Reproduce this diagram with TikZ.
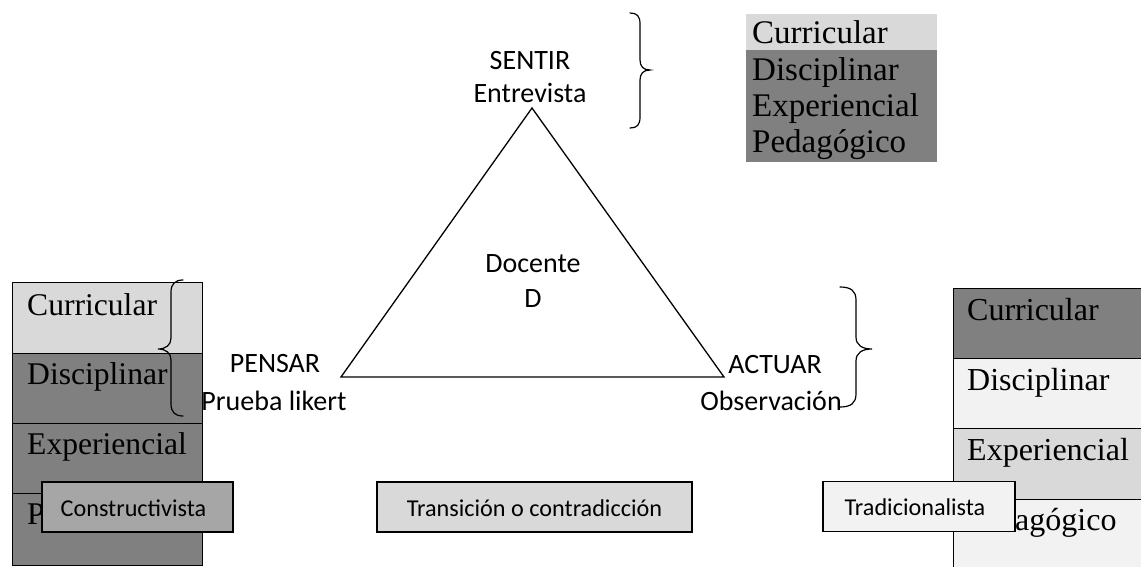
\documentclass[tikz,border=0pt]{standalone}
\usepackage{fontspec}
\setmainfont{Liberation Serif}
\newfontfamily\labelfont{Carlito}
\definecolor{dk}{gray}{0.5}
\definecolor{lt}{gray}{0.851}
\definecolor{vlt}{gray}{0.949}
\definecolor{md}{gray}{0.651}
\begin{document}
\begin{tikzpicture}[x=1pt,y=-1pt,
  rowcell/.style={draw=black,line width=0.9pt},
  stacktext/.style={font=\fontsize{31.6}{38}\selectfont,anchor=base west,inner sep=0pt},
  toptext/.style={font=\fontsize{33}{40}\selectfont,anchor=base west,inner sep=0pt},
  vertexlabel/.style={font=\labelfont\fontsize{28}{34}\selectfont,anchor=base,inner sep=0pt},
  tagbox/.style={draw=black,line width=1.3pt,inner sep=0pt,minimum height=50pt},
  tagtext/.style={font=\labelfont\fontsize{24.2}{29}\selectfont,anchor=base,inner sep=0pt},
  bracestroke/.style={line width=1.2pt,line cap=round}]
\useasboundingbox (0,0) rectangle (1141,567);
\clip (0,0) rectangle (1141,567);
% left stack
\filldraw[rowcell,fill=lt] (12,282) rectangle (202,353);
\filldraw[rowcell,fill=dk] (12,353) rectangle (202,423);
\filldraw[rowcell,fill=dk] (12,423) rectangle (202,493);
\filldraw[rowcell,fill=dk] (12,493) rectangle (202,565);
\node[stacktext] (lcur) at (27,315) {Curricular};
\node[stacktext] (ldis) at (27,384) {Disciplinar};
\node[stacktext] (lexp) at (27,454) {Experiencial};
\node[stacktext] (lped) at (27,524) {Pedagógico};
% right stack
\filldraw[rowcell,fill=dk] (953,288) rectangle (1160,358);
\filldraw[rowcell,fill=vlt] (953,358) rectangle (1160,428);
\filldraw[rowcell,fill=lt] (953,428) rectangle (1160,499);
\filldraw[rowcell,fill=vlt] (953,499) rectangle (1160,600);
\node[stacktext,font=\fontsize{32}{38}\selectfont] (rcur) at (967,320) {Curricular};
\node[stacktext,font=\fontsize{32}{38}\selectfont] (rdis) at (967,390) {Disciplinar};
\node[stacktext,font=\fontsize{32}{38}\selectfont] (rexp) at (967,460) {Experiencial};
\node[stacktext,font=\fontsize{32}{38}\selectfont] (rped) at (967,530) {Pedagógico};
% top right block
\fill[lt] (746,14) rectangle (937,50);
\fill[dk] (746,50) rectangle (937,162);
\node[toptext] (tcur) at (752,44) {Curricular};
\node[toptext] (tdis) at (752,81) {Disciplinar};
\node[toptext] (texp) at (752,117) {Experiencial};
\node[toptext] (tped) at (752,153) {Pedagógico};
% triangle
\coordinate (apex) at (532,108);
\coordinate (bl) at (341,377);
\coordinate (br) at (724,377);
\draw[line width=1.3pt,line join=miter] (apex) -- (bl) -- (br) -- cycle;
\node[vertexlabel] (sentir) at (530,70) {SENTIR};
\node[vertexlabel] (entrev) at (530,103) {Entrevista};
\node[vertexlabel] (docente) at (533,272) {Docente};
\node[vertexlabel] (dd) at (533,307) {D};
\node[vertexlabel] (pensar) at (275,372) {PENSAR};
\node[vertexlabel] (prueba) at (274,410) {Prueba likert};
\node[vertexlabel] (actuar) at (775,373) {ACTUAR};
\node[vertexlabel] (observ) at (771,410) {Observación};
% braces
\draw[bracestroke] (630,13) .. controls (637,13) and (640,16) .. (640,24) -- (640,60)
  .. controls (640,66) and (643,70) .. (650,70) .. controls (643,70) and (640,74) .. (640,80)
  -- (640,117) .. controls (640,125) and (637,128) .. (630,128);
\draw[bracestroke] (840,287) .. controls (851,287) and (856,291) .. (856,300) -- (856,337)
  .. controls (856,345) and (862,349) .. (872,349) .. controls (862,349) and (856,353) .. (856,361)
  -- (856,394) .. controls (856,403) and (851,407) .. (840,407);
\draw[bracestroke] (183,280) .. controls (175,280) and (171,284) .. (171,292) -- (171,338)
  .. controls (171,345) and (166,349) .. (158,349) .. controls (166,349) and (171,353) .. (171,360)
  -- (171,404) .. controls (171,412) and (175,416) .. (183,416);
% tag boxes
\node[tagbox,fill=md,minimum width=191pt] (constr) at (137.5,507) {};
\node[tagtext] (constrtxt) at (133.5,516) {Constructivista};
\node[tagbox,fill=lt,minimum width=315pt] (trans) at (534.5,507) {};
\node[tagtext] (transtxt) at (534.5,516) {Transición o contradicción};
\node[tagbox,fill=vlt,minimum width=192pt] (trad) at (919,506.5) {};
\node[tagtext] (tradtxt) at (915,515) {Tradicionalista};
\end{tikzpicture}
\end{document}
